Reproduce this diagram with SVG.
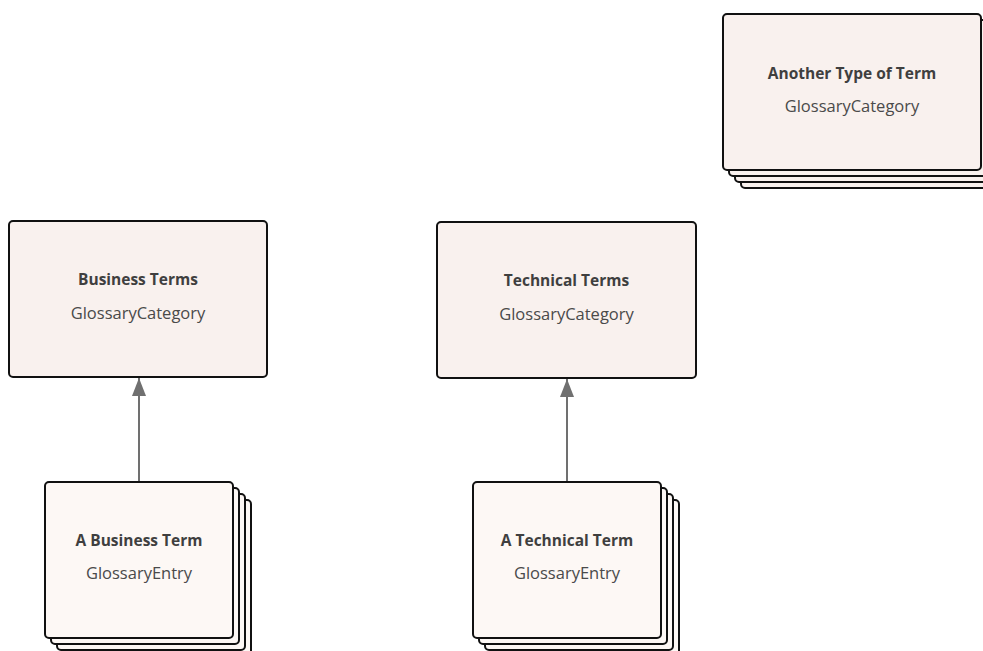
<svg xmlns="http://www.w3.org/2000/svg" width="983" height="651" viewBox="0 0 983 651">
<defs>
<style>
.cat{fill:#F9F1EE;stroke:#111;stroke-width:2}
.ent{fill:#FDF8F5;stroke:#111;stroke-width:2}
.t{font-family:"Open Sans","Liberation Sans",sans-serif;font-size:15.5px;font-weight:bold;fill:#3f3f3f;text-anchor:middle}
.s{font-family:"Open Sans","Liberation Sans",sans-serif;font-size:16.5px;fill:#4a4a4a;text-anchor:middle}
.edge{stroke:#707070;stroke-width:2;fill:none}
</style>
<marker id="arr" markerWidth="18" markerHeight="14" refX="18" refY="7" orient="auto" markerUnits="userSpaceOnUse" viewBox="0 0 18 14">
<path d="M0,0 L18,7 L0,14 Z" fill="#707070"/>
</marker>
</defs>
<rect width="983" height="651" fill="#fff"/>
<g id="another-type">
<rect class="cat" x="741" y="32" width="258" height="156" rx="4"/>
<rect class="cat" x="735" y="26" width="258" height="156" rx="4"/>
<rect class="cat" x="729" y="20" width="258" height="156" rx="4"/>
<rect class="cat" x="723" y="14" width="258" height="156" rx="4"/>
<text class="t" x="852" y="79">Another Type of Term</text>
<text class="s" x="852" y="112">GlossaryCategory</text>
</g>
<g id="business-terms">
<rect class="cat" x="9" y="221" width="258" height="156" rx="4"/>
<text class="t" x="138" y="285">Business Terms</text>
<text class="s" x="138" y="319">GlossaryCategory</text>
</g>
<g id="technical-terms">
<rect class="cat" x="437" y="222" width="259" height="156" rx="4"/>
<text class="t" x="566.5" y="286">Technical Terms</text>
<text class="s" x="566.5" y="320">GlossaryCategory</text>
</g>
<g id="a-business-term">
<rect class="ent" x="63" y="500" width="188" height="156" rx="4"/>
<rect class="ent" x="57" y="494" width="188" height="156" rx="4"/>
<rect class="ent" x="51" y="488" width="188" height="156" rx="4"/>
<rect class="ent" x="45" y="482" width="188" height="156" rx="4"/>
<text class="t" x="139" y="546">A Business Term</text>
<text class="s" x="139" y="579">GlossaryEntry</text>
</g>
<g id="a-technical-term">
<rect class="ent" x="491" y="500" width="188" height="156" rx="4"/>
<rect class="ent" x="485" y="494" width="188" height="156" rx="4"/>
<rect class="ent" x="479" y="488" width="188" height="156" rx="4"/>
<rect class="ent" x="473" y="482" width="188" height="156" rx="4"/>
<text class="t" x="567" y="546">A Technical Term</text>
<text class="s" x="567" y="579">GlossaryEntry</text>
</g>
<g id="connectors">
<line class="edge" x1="139" y1="481" x2="139" y2="378" marker-end="url(#arr)"/>
<line class="edge" x1="567" y1="481" x2="567" y2="379" marker-end="url(#arr)"/>
</g>
</svg>
